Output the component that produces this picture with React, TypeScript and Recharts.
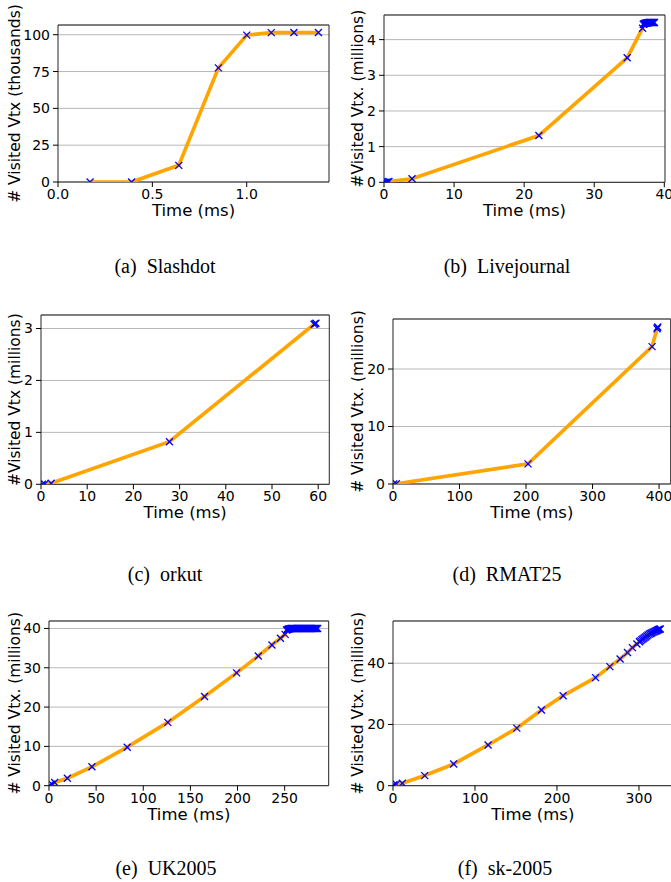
import React from 'react';
import { LineChart, Line, XAxis, YAxis, CartesianGrid, ReferenceArea, Label } from 'recharts';

// (a) Slashdot, thousands of vertices
const slashdotTime = [0.17, 0.39, 0.64, 0.85, 1.0, 1.13, 1.25, 1.38];
const slashdotVisited = [0, 0, 11.3, 77.5, 99.7, 101.4, 101.5, 101.5];

// (b) Livejournal, millions
const livejournalTime = [0.1, 0.3, 0.5, 0.7, 4.0, 22.1, 34.7, 36.9,
  37.0, 37.1, 37.2, 37.3, 37.4, 37.5, 37.6, 37.7, 37.8, 37.9, 38.0, 38.1, 38.2, 38.3, 38.4, 38.5, 38.6];
const livejournalVisited = [0, 0, 0.01, 0.02, 0.1, 1.31, 3.49, 4.32,
  4.43, 4.44, 4.45, 4.46, 4.46, 4.47, 4.47, 4.47, 4.48, 4.48, 4.48, 4.48, 4.48, 4.48, 4.48, 4.48, 4.48];

// (c) orkut
const orkutTime = [0.3, 0.8, 2.2, 27.8, 59.1, 59.3, 59.5];
const orkutVisited = [0, 0.005, 0.02, 0.82, 3.08, 3.09, 3.1];

// (d) RMAT25
const rmatTime = [1, 5, 203, 389.5, 397, 397.5, 398];
const rmatVisited = [0, 0.05, 3.5, 23.9, 27.0, 27.2, 27.3];

// (e) UK2005
const ukTime = [1, 3, 6, 19.5, 45.5, 83, 126, 165, 199, 222, 236.5, 245.5, 250.5,
  252, 252.8, 253.6, 254.4, 255.2, 256, 256.8, 257.6, 258.4, 259.2,
  260, 261, 262, 263, 264, 265, 266, 267, 268, 269, 270, 271, 272, 273, 274, 275,
  276, 277, 278, 279, 280, 281, 282, 283, 284, 285];
const ukVisited = [0.1, 0.4, 0.8, 1.9, 4.8, 9.8, 16.1, 22.7, 28.7, 33.0, 35.8, 37.5, 38.5,
  39.6, 39.7, 39.8, 39.85, 39.9, 39.95, 40, 40, 40, 40,
  40, 40, 40, 40, 40, 40, 40, 40, 40, 40, 40, 40, 40, 40, 40, 40,
  40, 40, 40, 40, 40, 40, 40, 40, 40, 40];

// (f) sk-2005
const skTime = [1.2, 4, 11.4, 38.7, 74, 116, 151, 181, 207.5, 247, 264.5, 277, 286, 292, 297.5,
  300.5, 302, 303.5, 305, 306.5, 308, 309.5, 311, 312.5, 314, 315.5, 317, 318.5, 320,
  321, 322, 323, 324, 325, 326];
const skVisited = [0.3, 0.5, 0.8, 3.3, 7.1, 13.3, 18.8, 24.7, 29.4, 35.3, 38.9, 41.4, 43.5, 45.1, 46.3,
  47.0, 47.3, 47.7, 48.0, 48.3, 48.6, 48.9, 49.2, 49.5, 49.7, 49.9, 50.1, 50.3, 50.5,
  50.6, 50.7, 50.9, 51.0, 51.1, 51.2];

const FONT = '"DejaVu Sans", Verdana, sans-serif';
const SERIF = '"Liberation Serif", "Times New Roman", serif';

const renderCross = (props: any) => {
  const { cx, cy, index } = props;
  if (cx == null || cy == null) return <g key={index} />;
  const s = 3.5;
  return (
    <g key={index}>
      <line x1={cx - s} y1={cy - s} x2={cx + s} y2={cy + s} stroke="#0000ff" strokeWidth={1.3} />
      <line x1={cx - s} y1={cy + s} x2={cx + s} y2={cy - s} stroke="#0000ff" strokeWidth={1.3} />
    </g>
  );
};

const Panel = ({ cfg }: { cfg: any }) => {
  const { plot, times, values, xDomain, xTicks, yDomain, yTicks, yLabel, yLabelX, fmt } = cfg;
  const data = times.map((t: number, i: number) => ({ t, v: values[i] }));
  // room above the plot so the rotated title is not cut by the svg
  const axisW = 60, top = 30, axisH = 50, padR = 25;
  const plotW = plot.r - plot.l;
  const plotH = plot.b - plot.t;
  const left = plot.l - axisW;
  const width = plotW + axisW + padR;
  const height = plotH + top + axisH;
  const lx = yLabelX - left;
  const ly = top + plotH / 2;
  const tickStyle = { fontSize: 14, fill: '#000', fontFamily: FONT };

  return (
    <div style={{ position: 'absolute', left, top: plot.t - top }}>
      <LineChart width={width} height={height} data={data} margin={{ top, right: padR, bottom: 0, left: 0 }}>
        <CartesianGrid vertical={false} stroke="#b8b8b8" strokeWidth={1} />
        <ReferenceArea x1={xDomain[0]} x2={xDomain[1]} y1={yDomain[0]} y2={yDomain[1]}
          fill="none" stroke="#222" strokeWidth={1} ifOverflow="visible" />
        <XAxis dataKey="t" type="number" domain={xDomain} ticks={xTicks} interval={0}
          allowDataOverflow height={axisH} axisLine={false} tickSize={5} tickMargin={2}
          tickLine={{ stroke: '#000' }} tick={tickStyle} tickFormatter={fmt}
          label={<Label content={() => (
            <text x={axisW + plotW / 2} y={top + plotH + 28.5} textAnchor="middle"
              dominantBaseline="central" fontSize={16.5} fontFamily={FONT} fill="#000">Time (ms)</text>
          )} />} />
        <YAxis type="number" domain={yDomain} ticks={yTicks} interval={0} allowDataOverflow
          width={axisW} axisLine={false} tickSize={5} tickMargin={3}
          tickLine={{ stroke: '#000' }} tick={tickStyle}
          label={<Label content={() => (
            <text x={lx} y={ly} textAnchor="middle" dominantBaseline="central"
              transform={`rotate(-90 ${lx} ${ly})`} fontSize={15.5} fontFamily={FONT} fill="#000">{yLabel}</text>
          )} />} />
        <Line dataKey="v" type="linear" stroke="#ffa500" strokeWidth={3.7}
          dot={renderCross} activeDot={false} isAnimationActive={false} />
      </LineChart>
    </div>
  );
};

const panels = [
  { plot: { l: 58, t: 25, r: 329, b: 182 }, times: slashdotTime, values: slashdotVisited,
    xDomain: [0, 1.436], xTicks: [0, 0.5, 1.0], yDomain: [0, 106.6], yTicks: [0, 25, 50, 75, 100],
    yLabel: '# Visited Vtx (thousands)', yLabelX: 15, fmt: (v: number) => v.toFixed(1) },
  { plot: { l: 384.3, t: 15, r: 665.3, b: 182.3 }, times: livejournalTime, values: livejournalVisited,
    xDomain: [0, 40.1], xTicks: [0, 10, 20, 30, 40], yDomain: [0, 4.69], yTicks: [0, 1, 2, 3, 4],
    yLabel: '#Visited Vtx. (millions)', yLabelX: 358 },
  { plot: { l: 40.7, t: 315, r: 329, b: 484.3 }, times: orkutTime, values: orkutVisited,
    xDomain: [0, 62.4], xTicks: [0, 10, 20, 30, 40, 50, 60], yDomain: [0, 3.26], yTicks: [0, 1, 2, 3],
    yLabel: '#Visited Vtx (millions)', yLabelX: 15 },
  { plot: { l: 393.3, t: 319.3, r: 671, b: 484.3 }, times: rmatTime, values: rmatVisited,
    xDomain: [0, 417.5], xTicks: [0, 100, 200, 300, 400], yDomain: [0, 28.7], yTicks: [0, 10, 20],
    yLabel: '# Visited Vtx. (millions)', yLabelX: 358 },
  { plot: { l: 49.3, t: 621, r: 329, b: 785.7 }, times: ukTime, values: ukVisited,
    xDomain: [0, 296.7], xTicks: [0, 50, 100, 150, 200, 250], yDomain: [0, 41.9], yTicks: [0, 10, 20, 30, 40],
    yLabel: '# Visited Vtx. (millions)', yLabelX: 15 },
  { plot: { l: 393.3, t: 621, r: 672.9, b: 785.7 }, times: skTime, values: skVisited,
    xDomain: [0, 341], xTicks: [0, 100, 200, 300], yDomain: [0, 53.8], yTicks: [0, 20, 40],
    yLabel: '# Visited Vtx. (millions)', yLabelX: 358 },
];

const captions = [
  { text: '(a)  Slashdot', x: 165, y: 266 },
  { text: '(b)  Livejournal', x: 507, y: 266 },
  { text: '(c)  orkut', x: 165, y: 574 },
  { text: '(d)  RMAT25', x: 507, y: 574 },
  { text: '(e)  UK2005', x: 166, y: 868 },
  { text: '(f)  sk-2005', x: 505, y: 868 },
];

export default function App() {
  return (
    <div style={{ position: 'absolute', left: 0, top: 0, width: 671, height: 882, overflow: 'hidden', background: '#fff' }}>
      {panels.map((p, i) => <Panel key={i} cfg={p} />)}
      {captions.map((c) => (
        <div key={c.text} style={{
          position: 'absolute', left: c.x - 100, top: c.y - 12, width: 200, height: 24, lineHeight: '24px',
          textAlign: 'center', whiteSpace: 'pre', fontFamily: SERIF, fontSize: 20, color: '#000',
        }}>{c.text}</div>
      ))}
    </div>
  );
}
